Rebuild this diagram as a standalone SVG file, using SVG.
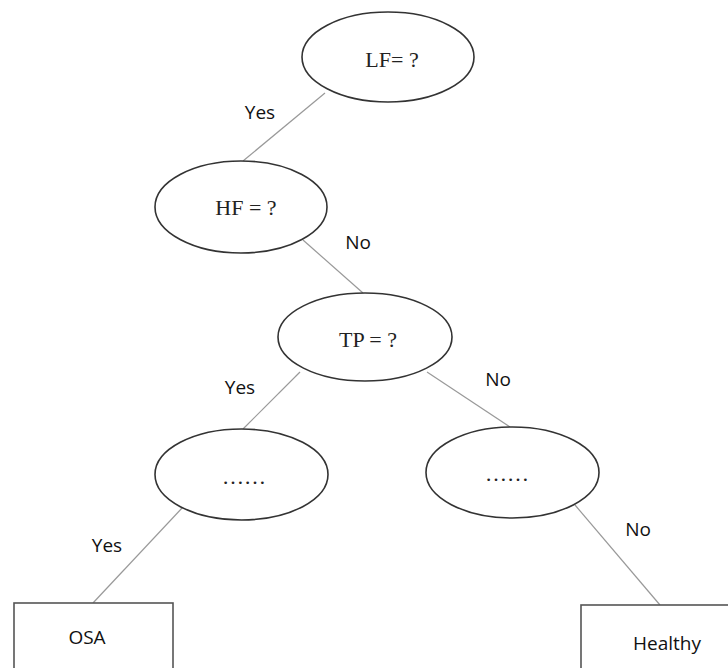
<svg xmlns="http://www.w3.org/2000/svg" width="728" height="668" viewBox="0 0 728 668">
<style>
.node{fill:#fff;stroke:#333;stroke-width:1.6}
.box{fill:#fff;stroke:#555;stroke-width:1.6}
.edge{stroke:#999;stroke-width:1.2;fill:none}
.t{font-family:"Liberation Serif",serif;font-size:22px;fill:#222;text-anchor:middle}
.s{font-family:"Open Sans","Liberation Sans",sans-serif;font-size:19px;fill:#111;text-anchor:middle}
</style>
<rect width="728" height="668" fill="#fff"/>
<g id="connectors">
<line class="edge" x1="325" y1="93" x2="243" y2="161"/>
<line class="edge" x1="303" y1="240" x2="363" y2="293"/>
<line class="edge" x1="300" y1="372" x2="243" y2="429"/>
<line class="edge" x1="427" y1="372" x2="510" y2="427"/>
<line class="edge" x1="182" y1="508" x2="93" y2="603"/>
<line class="edge" x1="575" y1="505" x2="660" y2="605"/>
<text class="s" x="260" y="119">Yes</text>
<text class="s" x="358" y="249">No</text>
<text class="s" x="240" y="394">Yes</text>
<text class="s" x="498" y="386">No</text>
<text class="s" x="107" y="552">Yes</text>
<text class="s" x="638" y="536">No</text>
</g>
<g id="LF"><ellipse class="node" cx="388" cy="57" rx="86" ry="45"/><text class="t" x="392" y="67">LF= ?</text></g>
<g id="HF"><ellipse class="node" cx="241" cy="207" rx="86" ry="46"/><text class="t" x="246" y="215">HF = ?</text></g>
<g id="TP"><ellipse class="node" cx="365" cy="337" rx="87" ry="44"/><text class="t" x="368" y="347">TP = ?</text></g>
<g id="L"><ellipse class="node" cx="241.5" cy="474.5" rx="86.5" ry="45.5"/><text class="t" x="244" y="484">……</text></g>
<g id="R"><ellipse class="node" cx="512.5" cy="472.5" rx="86.5" ry="45.5"/><text class="t" x="507" y="481">……</text></g>
<g id="OSA"><rect class="box" x="14" y="603" width="159" height="70"/><text class="s" x="87" y="644">OSA</text></g>
<g id="Healthy"><rect class="box" x="581" y="605" width="160" height="70"/><text class="s" x="667" y="650">Healthy</text></g>
</svg>
